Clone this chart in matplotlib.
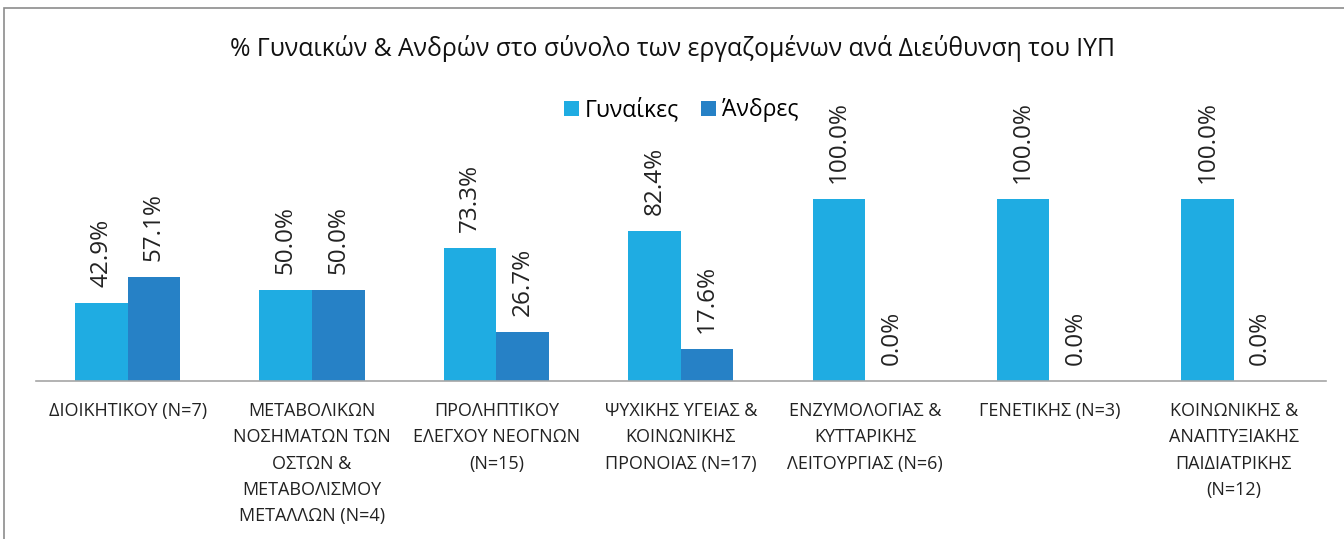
import matplotlib
matplotlib.use("Agg")
import matplotlib.pyplot as plt
import numpy as np
from matplotlib.patches import Rectangle

categories = [
    "ΔΙΟΙΚΗΤΙΚΟΥ (N=7)",
    "ΜΕΤΑΒΟΛΙΚΩΝ\nΝΟΣΗΜΑΤΩΝ ΤΩΝ\nΟΣΤΩΝ &\nΜΕΤΑΒΟΛΙΣΜΟΥ\nΜΕΤΑΛΛΩΝ (N=4)",
    "ΠΡΟΛΗΠΤΙΚΟΥ\nΕΛΕΓΧΟΥ ΝΕΟΓΝΩΝ\n(N=15)",
    "ΨΥΧΙΚΗΣ ΥΓΕΙΑΣ &\nΚΟΙΝΩΝΙΚΗΣ\nΠΡΟΝΟΙΑΣ (N=17)",
    "ΕΝΖΥΜΟΛΟΓΙΑΣ &\nΚΥΤΤΑΡΙΚΗΣ\nΛΕΙΤΟΥΡΓΙΑΣ (N=6)",
    "ΓΕΝΕΤΙΚΗΣ (N=3)",
    "ΚΟΙΝΩΝΙΚΗΣ &\nΑΝΑΠΤΥΞΙΑΚΗΣ\nΠΑΙΔΙΑΤΡΙΚΗΣ\n(N=12)",
]
women = [42.9, 50.0, 73.3, 82.4, 100.0, 100.0, 100.0]
men = [57.1, 50.0, 26.7, 17.6, 0.0, 0.0, 0.0]
series_names = ["Γυναίκες", "Άνδρες"]
title = "% Γυναικών & Ανδρών στο σύνολο των εργαζομένων ανά Διεύθυνση του ΙΥΠ"

plt.rcParams['font.family'] = ['Open Sans', 'DejaVu Sans']

W, H = 1344, 539
fig = plt.figure(figsize=(W / 100, H / 100), dpi=100)

# outer chart border
fig.patches.append(Rectangle((4 / W, -0.1), 1.2, (H - 8) / H + 0.1,
                             transform=fig.transFigure, fill=False,
                             edgecolor='#8c8c8c', linewidth=1.2))

ax_left, ax_right = 35.5 / W, 1326 / W
ax_bottom = (H - 381) / H
ax_top = (H - 199) / H
ax = fig.add_axes([ax_left, ax_bottom, ax_right - ax_left, ax_top - ax_bottom])
ax.set_ylim(0, 100)
n = len(categories)
ax.set_xlim(-0.5, n - 0.5)

c_w, c_m = '#1FACE2', '#2681C6'
bw = 0.285
x = np.arange(n)
b1 = ax.bar(x - bw / 2, women, bw, color=c_w, label=series_names[0])
b2 = ax.bar(x + bw / 2, men, bw, color=c_m, label=series_names[1])

for bars, vals in ((b1, women), (b2, men)):
    for rect, v in zip(bars, vals):
        ax.annotate(f"{v:.1f}%", (rect.get_x() + rect.get_width() / 2, v),
                    xytext=(0, 11.5), textcoords='offset points', rotation=90,
                    ha='center', va='bottom', fontsize=17.5, color='#222222',
                    annotation_clip=False)

for s in ('top', 'right', 'left'):
    ax.spines[s].set_visible(False)
ax.spines['bottom'].set_color('#a6a6a6')
ax.spines['bottom'].set_linewidth(1.2)
ax.set_yticks([])
ax.set_xticks(x)
ax.set_xticklabels(categories, fontsize=13, color='#222222', linespacing=1.6)
ax.tick_params(axis='x', length=0, pad=15)

fig.text(0.5, (H - 48) / H, title, ha='center', va='center', fontsize=17.8,
         color='#111111')

leg = fig.legend(loc='center', bbox_to_anchor=(681 / W, (H - 110) / H), ncol=2,
                 frameon=False, fontsize=16.5, handlelength=0.65, handleheight=0.65,
                 handletextpad=0.25, columnspacing=1.0)

fig.savefig('out.png', dpi=100)
